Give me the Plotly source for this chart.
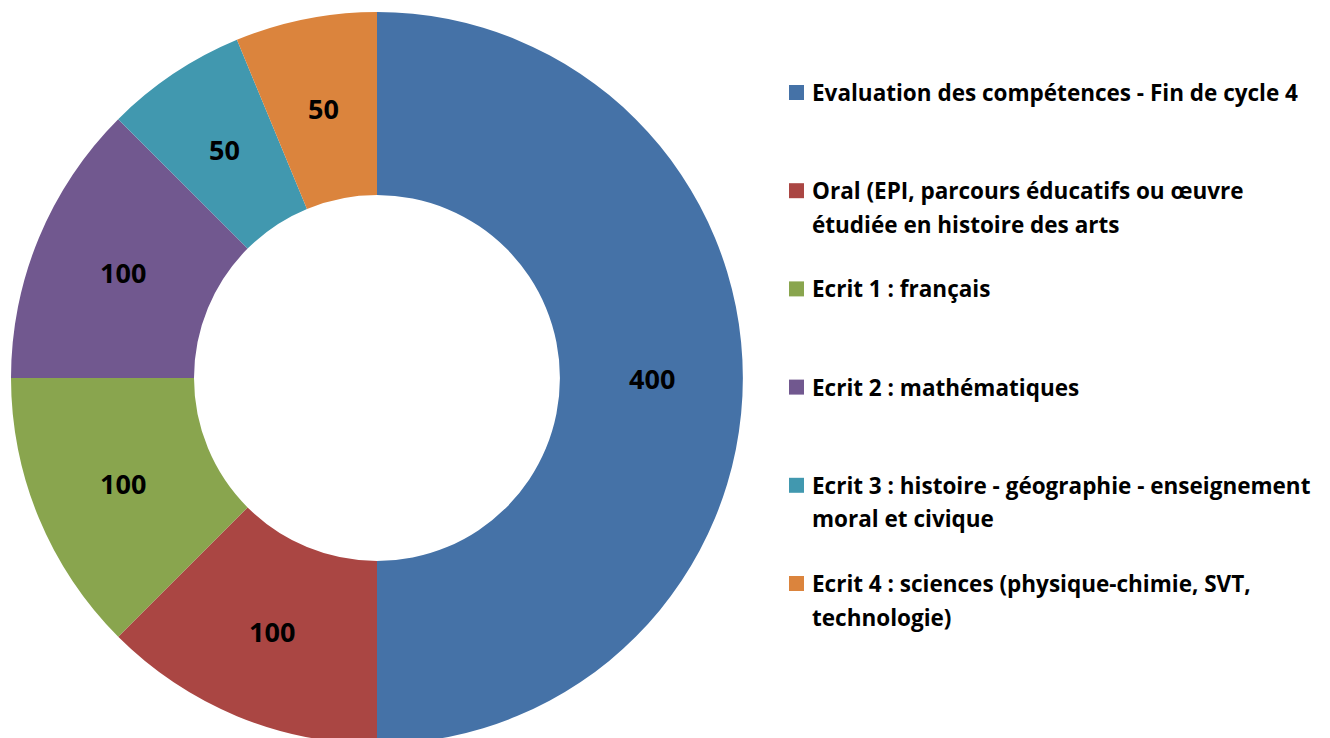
import math
import plotly.graph_objects as go

# ---- data ----
categories = [
    "Evaluation des compétences - Fin de cycle 4",
    "Oral (EPI, parcours éducatifs ou œuvre étudiée en histoire des arts",
    "Ecrit 1 : français",
    "Ecrit 2 : mathématiques",
    "Ecrit 3 : histoire - géographie - enseignement moral et civique",
    "Ecrit 4 : sciences (physique-chimie, SVT, technologie)",
]
legend_lines = [
    ["Evaluation des compétences - Fin de cycle 4"],
    ["Oral (EPI, parcours éducatifs ou œuvre", "étudiée en histoire des arts"],
    ["Ecrit 1 : français"],
    ["Ecrit 2 : mathématiques"],
    ["Ecrit 3 : histoire - géographie - enseignement", "moral et civique"],
    ["Ecrit 4 : sciences (physique-chimie, SVT,", "technologie)"],
]
points = [400, 100, 100, 100, 50, 50]
colors = ["#4572A7", "#AA4643", "#89A54E", "#71588F", "#4198AF", "#DB843D"]

# ---- layout constants ----
W, H = 1330, 738
MT, MB = 4, 2
OFF = 8  # page body margin offset
FONT = "Open Sans"
HOLE = 0.5
PIE_W = 738  # pixel width of the pie domain

PLOT_H = H - MT - MB

def px_x(x):
    return (x - OFF) / W

def px_y(y):
    return (H - MB - (y - OFF)) / PLOT_H

fig = go.Figure()
fig.add_trace(go.Pie(
    labels=categories,
    values=points,
    marker=dict(colors=colors, line=dict(width=0)),
    hole=HOLE,
    sort=False,
    direction="clockwise",
    rotation=0,
    textinfo="none",
    showlegend=False,
    domain=dict(x=[0, PIE_W / W], y=[0, 1]),
    hoverinfo="label+value",
))

annotations = []
shapes = []

# value labels at the middle of the ring, along each slice's bisector
radius_px = min(PIE_W, PLOT_H) / 2
mid_r = radius_px * (1 + HOLE) / 2
cx = (PIE_W / 2) / W
cy = 0.5
total = sum(points)
cum = 0
for v in points:
    ang = 2 * math.pi * (cum + v / 2) / total  # clockwise from top
    cum += v
    dx = mid_r * math.sin(ang)
    dy = mid_r * math.cos(ang)
    annotations.append(dict(
        xref="paper", yref="paper",
        x=cx + dx / W, y=cy + dy / PLOT_H,
        xanchor="center", yanchor="middle",
        text=str(v), showarrow=False,
        font=dict(family=FONT, size=27, color="#000000", weight="bold"),
    ))

entry_top = 92.5
entry_step = 98.2
line_step = 33.5
text_shift = 0
for i, lines in enumerate(legend_lines):
    y0 = entry_top + i * entry_step
    shapes.append(dict(
        type="rect", xref="paper", yref="paper",
        x0=px_x(789), x1=px_x(804), y0=px_y(y0 - 7.5), y1=px_y(y0 + 7.5),
        fillcolor=colors[i], line=dict(width=0),
    ))
    for j, line in enumerate(lines):
        annotations.append(dict(
            xref="paper", yref="paper",
            x=px_x(810), y=px_y(y0 + text_shift + j * line_step),
            xanchor="left", yanchor="middle",
            text=line, showarrow=False,
            font=dict(family=FONT, size=22.5, color="#000000", weight="bold"),
        ))

fig.update_layout(
    width=W, height=H,
    margin=dict(l=0, r=0, t=MT, b=MB),
    paper_bgcolor="white",
    plot_bgcolor="white",
    annotations=annotations,
    shapes=shapes,
    font=dict(family=FONT),
)

fig.write_html("out.html")
